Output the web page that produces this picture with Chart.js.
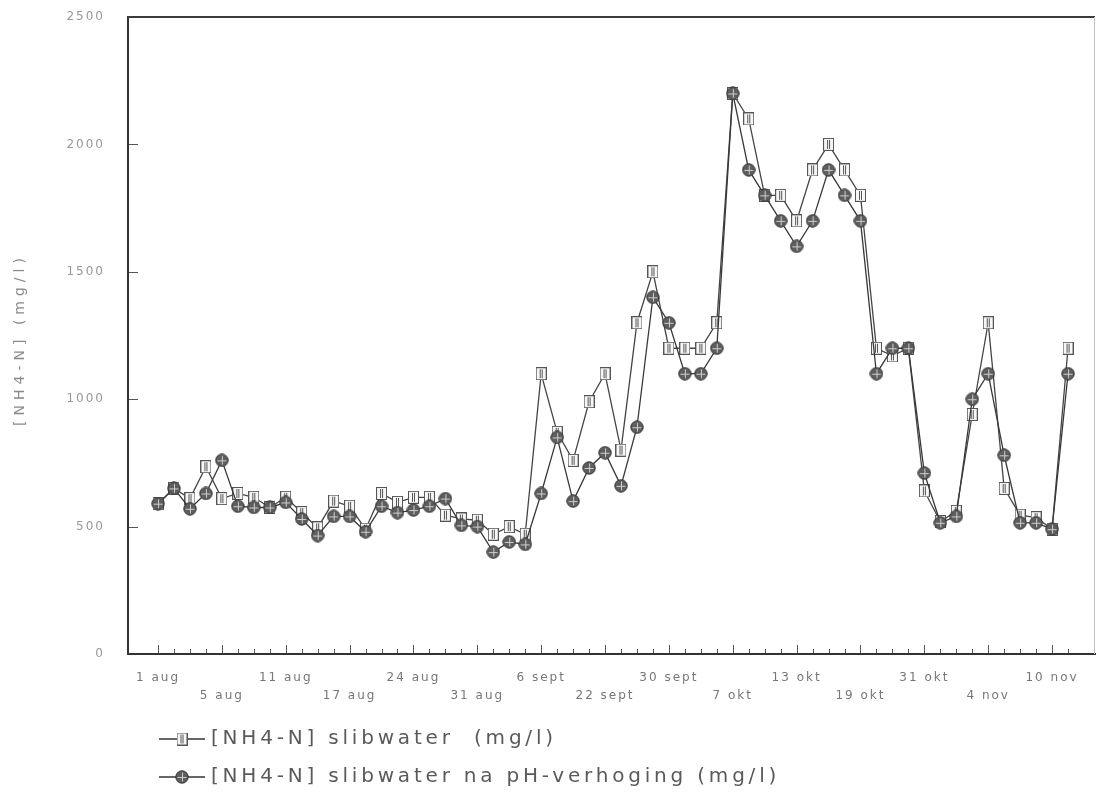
<!DOCTYPE html>
<html>
<head>
<meta charset="utf-8">
<script src="https://cdn.jsdelivr.net/npm/chart.js@4.4.0/dist/chart.umd.min.js"></script>
<style>
html, body { margin: 0; padding: 0; background: #fff; }
#wrap { width: 1096px; height: 801px; position: relative; }
</style>
</head>
<body>
<div id="wrap"><canvas id="nh4Chart"></canvas></div>
<script>
// one value per sample, 1 aug - 11 nov (mg/l)
const slibwater = [590, 650, 610, 735, 610, 630, 615, 575, 615, 555, 495, 600, 580, 490, 630, 595,
    615, 615, 545, 530, 525, 470, 500, 470, 1100, 870, 760, 990, 1100, 800, 1300, 1500,
    1200, 1200, 1200, 1300, 2200, 2100, 1800, 1800, 1700, 1900, 2000, 1900, 1800, 1200, 1170, 1200,
    640, 520, 560, 940, 1300, 650, 545, 535, 490, 1200];
const slibwaterPh = [590, 650, 570, 630, 760, 580, 575, 575, 595, 530, 465, 540, 540, 480, 580, 555,
    565, 580, 610, 505, 500, 400, 440, 430, 630, 850, 600, 730, 790, 660, 890, 1400,
    1300, 1100, 1100, 1200, 2200, 1900, 1800, 1700, 1600, 1700, 1900, 1800, 1700, 1100, 1200, 1200,
    710, 515, 540, 1000, 1100, 780, 515, 515, 490, 1100];
// a date label on every 4th sample
const tickLabels = ['1 aug', '5 aug', '11 aug', '17 aug', '24 aug', '31 aug', '6 sept', '22 sept',
    '30 sept', '7 okt', '13 okt', '19 okt', '31 okt', '4 nov', '10 nov'];
const yTicks = [0, 500, 1000, 1500, 2000, 2500];
const yTitle = '[NH4-N] (mg/l)';
const seriesNames = ['[NH4-N] slibwater  (mg/l)', '[NH4-N] slibwater na pH-verhoging (mg/l)'];

const FONT = "'DejaVu Sans', sans-serif";

// marker pictures
function squareMarker() {
    const c = document.createElement('canvas');
    c.width = 11; c.height = 13;
    const g = c.getContext('2d');
    g.fillStyle = '#f6f6f6';
    g.fillRect(0, 0, 11, 13);
    g.strokeStyle = '#555';
    g.lineWidth = 1;
    g.strokeRect(0.5, 0.5, 10, 12);
    g.beginPath();
    g.moveTo(4.5, 2); g.lineTo(4.5, 11);
    g.moveTo(6.5, 2); g.lineTo(6.5, 11);
    g.stroke();
    return c;
}

function circleMarker() {
    const c = document.createElement('canvas');
    c.width = 14; c.height = 14;
    const g = c.getContext('2d');
    g.beginPath();
    g.arc(7, 7, 6.2, 0, Math.PI * 2);
    g.fillStyle = '#5e5e5e';
    g.fill();
    g.strokeStyle = '#333';
    g.lineWidth = 1;
    g.stroke();
    g.strokeStyle = '#cfcfcf';
    g.beginPath();
    g.moveTo(2.5, 7.5); g.lineTo(11.5, 7.5);
    g.moveTo(7.5, 2.5); g.lineTo(7.5, 11.5);
    g.stroke();
    return c;
}

const sqImg = squareMarker();
const circImg = circleMarker();
const markers = [sqImg, circImg];

// ticks pointing into the plot, frame, y title and the legend under the axis
const decorations = {
    id: 'decorations',
    beforeDraw(chart) {
        chart.ctx.letterSpacing = '2px';
    },
    afterDraw(chart) {
        const ctx = chart.ctx;
        const a = chart.chartArea;
        const xs = chart.scales.x, ys = chart.scales.y;
        ctx.save();
        ctx.strokeStyle = '#555';
        ctx.lineWidth = 1;
        ctx.beginPath();
        slibwater.forEach((_, i) => {
            const px = Math.round(xs.getPixelForValue(i)) + 0.5;
            const len = i % 4 === 0 ? 8 : 4;
            ctx.moveTo(px, a.bottom - 1);
            ctx.lineTo(px, a.bottom - 1 - len);
        });
        yTicks.slice(1, -1).forEach(v => {
            const py = Math.round(ys.getPixelForValue(v)) + 0.5;
            ctx.moveTo(a.left + 1, py);
            ctx.lineTo(a.left + 10, py);
        });
        ctx.stroke();

        ctx.strokeStyle = '#3c3c3c';
        ctx.lineWidth = 2;
        ctx.beginPath();
        ctx.moveTo(a.left, a.top);
        ctx.lineTo(a.right, a.top);
        ctx.stroke();
        ctx.strokeStyle = '#c4c4c4';
        ctx.lineWidth = 1;
        ctx.beginPath();
        ctx.moveTo(a.right - 0.5, a.top);
        ctx.lineTo(a.right - 0.5, a.bottom);
        ctx.stroke();

        // y axis title
        ctx.save();
        ctx.letterSpacing = '5px';
        ctx.font = '14px ' + FONT;
        ctx.fillStyle = '#8a8a8a';
        ctx.textAlign = 'center';
        ctx.textBaseline = 'middle';
        ctx.translate(20, (a.top + a.bottom) / 2 + 4);
        ctx.rotate(-Math.PI / 2);
        ctx.fillText(yTitle, 0, 0);
        ctx.restore();

        // legend
        ctx.letterSpacing = '3.8px';
        ctx.font = '20px ' + FONT;
        ctx.textBaseline = 'middle';
        ctx.textAlign = 'left';
        chart.data.datasets.forEach((ds, k) => {
            const x0 = a.left + 31;
            const y0 = a.bottom + 85 + k * 38;
            ctx.strokeStyle = '#333';
            ctx.lineWidth = 1.3;
            ctx.beginPath();
            ctx.moveTo(x0, y0);
            ctx.lineTo(x0 + 46, y0);
            ctx.stroke();
            const img = markers[k];
            ctx.drawImage(img, x0 + 23 - img.width / 2, y0 - img.height / 2);
            ctx.fillStyle = '#5a5a5a';
            ctx.fillText(ds.label, x0 + 52, y0);
        });
        ctx.restore();
    }
};

new Chart(document.getElementById('nh4Chart'), {
    type: 'line',
    data: {
        datasets: [{
            label: seriesNames[0],
            data: slibwater.map((v, i) => ({ x: i, y: v })),
            borderColor: '#444',
            borderWidth: 1.3,
            pointStyle: sqImg,
            order: 1
        }, {
            label: seriesNames[1],
            data: slibwaterPh.map((v, i) => ({ x: i, y: v })),
            borderColor: '#383838',
            borderWidth: 1.3,
            pointStyle: circImg,
            order: 0
        }]
    },
    options: {
        responsive: true,
        maintainAspectRatio: false,
        animation: false,
        layout: { autoPadding: false, padding: { top: 17, right: 1, left: 0, bottom: 0 } },
        plugins: {
            legend: { display: false },
            tooltip: { enabled: false }
        },
        scales: {
            x: {
                type: 'linear',
                bounds: 'data',
                min: -1.88,
                max: 58.69,
                afterBuildTicks: s => { s.ticks = tickLabels.map((_, k) => ({ value: k * 4 })); },
                afterFit: s => { s.height = 147; s.paddingLeft = 0; s.paddingRight = 0; },
                grid: { display: false },
                border: { display: true, color: '#333', width: 2 },
                ticks: {
                    autoSkip: false,
                    maxRotation: 0,
                    padding: 7,
                    color: '#777',
                    font: { family: FONT, size: 12, lineHeight: 1.5 },
                    callback: v => {
                        const k = Math.round(v / 4);
                        return k % 2 ? ['', tickLabels[k]] : tickLabels[k];
                    }
                }
            },
            y: {
                min: 0,
                max: 2500,
                afterBuildTicks: s => { s.ticks = yTicks.map(v => ({ value: v })); },
                afterFit: s => { s.width = 128; s.paddingTop = 0; s.paddingBottom = 0; },
                grid: { display: false },
                border: { display: true, color: '#333', width: 2 },
                ticks: {
                    padding: 15,
                    color: '#999',
                    font: { family: FONT, size: 12 },
                    callback: v => String(v)
                }
            }
        }
    },
    plugins: [decorations]
});
</script>
</body>
</html>
